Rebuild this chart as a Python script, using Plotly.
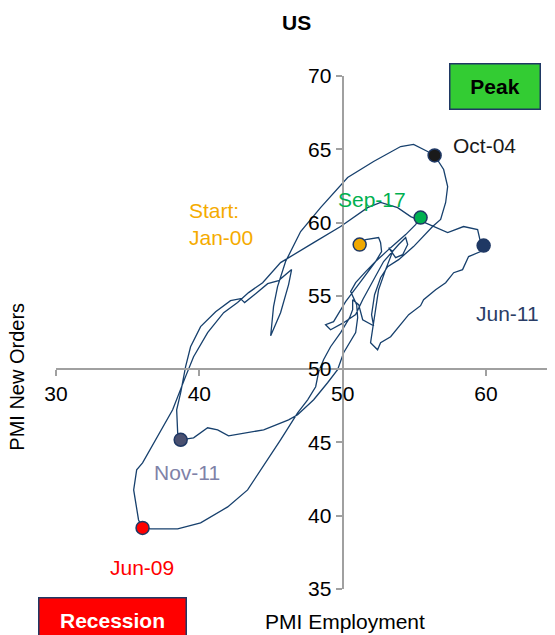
import plotly.graph_objects as go

# PMI Employment (x) and PMI New Orders (y), path
employment = [
    51.19, 51.61, 52.51, 52.65, 52.72, 52.30, 51.61, 50.91, 50.56, 50.98, 51.05, 50.91,
    50.07, 49.65, 48.95, 47.98, 46.86, 46.23, 44.49, 43.37, 42.04, 41.28, 40.58, 39.60, 38.70,
    38.49, 38.42, 38.70, 39.04, 39.39, 40.09, 41.14, 42.18, 42.88, 43.16, 43.93, 44.77, 45.53,
    46.44, 46.23, 45.67, 44.98, 45.18, 45.46, 46.02, 47.07, 48.46, 50.35, 52.16, 54.05, 54.95,
    55.93, 56.42,
    57.05, 57.33, 57.19, 56.84, 56.28, 54.95, 53.91, 53.14, 52.65, 52.23, 52.02, 52.16, 51.40,
    51.12, 50.70, 50.70, 50.49, 49.86, 49.16, 48.67, 48.33, 48.12, 47.56, 46.86, 45.67, 44.77,
    43.37, 41.98, 40.09, 38.49, 36.60, 36.04,
    35.76, 35.42, 35.63, 36.04, 36.95, 38.14, 39.04, 39.60, 40.58, 41.70, 42.67, 43.44, 44.42,
    45.67, 47.98, 49.86, 51.74, 52.65, 53.84, 54.75, 55.58, 56.35, 57.33, 58.44, 59.42, 59.63,
    59.84,
    59.63, 58.79, 58.37, 57.75, 57.19, 56.49, 55.65, 55.44, 54.61, 53.84, 53.35, 52.65, 52.44,
    51.95, 52.09, 52.30, 52.51, 53.00, 53.49, 53.21, 53.70, 54.19, 54.54, 54.40, 53.91, 52.86,
    51.95, 51.40, 50.91, 50.07, 49.16, 48.81, 49.37, 50.21, 51.26, 52.30, 53.35, 54.40, 55.09,
    55.44,
]
new_orders = [
    58.50, 58.84, 58.98, 58.63, 58.02, 57.34, 56.65, 55.90, 55.29, 54.40, 53.51, 52.49,
    51.12, 49.96, 49.07, 47.91, 46.89, 46.54, 45.86, 45.66, 45.45, 45.86, 46.00, 45.31, 45.18,
    45.66, 47.23, 48.39, 50.16, 51.53, 52.90, 53.92, 54.67, 54.81, 54.54, 55.15, 55.83, 56.04,
    56.79, 55.77, 53.85, 52.28, 54.26, 55.63, 57.34, 59.39, 61.02, 63.07, 64.17, 65.19, 65.33,
    64.85, 64.58,
    63.62, 62.46, 61.37, 60.21, 59.73, 58.36, 57.47, 56.99, 56.24, 55.08, 53.72, 52.96, 53.37,
    54.40, 54.74, 54.06, 53.51, 52.49, 51.53, 50.64, 49.82, 48.80, 47.91, 47.02, 45.18, 43.81,
    41.76, 40.60, 39.51, 39.10, 39.10, 39.17,
    39.71, 41.76, 43.13, 43.61, 45.18, 47.23, 49.49, 50.85, 52.49, 53.85, 54.54, 55.22, 55.90,
    57.27, 58.63, 59.73, 61.02, 61.37, 61.02, 60.41, 60.07, 59.73, 59.32, 59.73, 59.52, 58.63,
    58.43,
    58.02, 57.68, 56.79, 56.58, 55.90, 55.42, 54.74, 54.33, 53.72, 52.83, 52.21, 51.80, 51.32,
    51.80, 52.69, 54.06, 55.42, 56.79, 58.02, 58.29, 57.61, 57.81, 58.50, 58.98, 58.50, 57.34,
    55.77, 54.74, 53.72, 53.17, 52.69, 53.03, 53.24, 54.60, 55.97, 57.34, 58.29, 59.18, 59.86,
    60.34,
]

# Highlighted months
point_names = ["Start:<br>Jan-00", "Oct-04", "Jun-09", "Jun-11", "Nov-11", "Sep-17"]
point_x = [51.19, 56.42, 36.04, 59.84, 38.70, 55.44]
point_y = [58.50, 64.58, 39.17, 58.43, 45.18, 60.34]
point_colors = ["#f0a800", "#1a1a1a", "#ff0000", "#1f3864", "#4a5070", "#00b050"]
label_colors = ["#f5ab00", "#1a1a1a", "#ff0000", "#2a3d66", "#7f82a8", "#00b050"]
# label offsets (data units) relative to the point
label_dx = [-12.08, 3.49, -0.07, 1.67, 0.41, -3.42]
label_dy = [1.43, 0.68, -2.73, -4.65, -2.24, 1.23]
label_align = ["left", "center", "center", "center", "center", "center"]

x_ticks = [30, 40, 50, 60]
y_ticks = [35, 40, 45, 50, 55, 60, 65, 70]

FONT = "Liberation Sans, Arial, sans-serif"
FS = 21
AXIS_GRAY = "#a0a0a0"
LINE_COLOR = "#17406d"

fig = go.Figure()
fig.add_trace(go.Scatter(
    x=employment, y=new_orders, mode="lines",
    line=dict(color=LINE_COLOR, width=1.3),
    hoverinfo="skip", showlegend=False,
))
fig.add_trace(go.Scatter(
    x=point_x, y=point_y, mode="markers",
    marker=dict(size=13, color=point_colors, line=dict(color="#1f3864", width=1.5)),
    showlegend=False,
))

annotations = []
for name, px, py, c, dx, dy, al in zip(point_names, point_x, point_y, label_colors,
                                        label_dx, label_dy, label_align):
    annotations.append(dict(
        x=px + dx, y=py + dy, xref="x", yref="y", text=name, showarrow=False,
        font=dict(family=FONT, size=FS, color=c), align=al,
        xanchor="left" if al == "left" else "center", yanchor="middle",
    ))

# Peak / Recession boxes
annotations.append(dict(
    x=60.6, y=69.3, xref="x", yref="y", text="<b>Peak</b>", showarrow=False,
    font=dict(family=FONT, size=FS, color="#000000"),
    bgcolor="#33cc33", bordercolor="#1f3864", borderwidth=1.5,
    width=87, height=42, borderpad=1, xanchor="center", yanchor="middle",
))
annotations.append(dict(
    x=0.1142, y=-0.0614, xref="paper", yref="paper", text="<b>Recession</b>", showarrow=False,
    font=dict(family=FONT, size=FS, color="#ffffff"),
    bgcolor="#ff0000", bordercolor="#1f3864", borderwidth=1.5,
    width=144, height=42, borderpad=1, xanchor="center", yanchor="middle",
))
# titles
annotations.append(dict(
    x=0.481, y=1.105, xref="paper", yref="paper", text="<b>US</b>", showarrow=False,
    font=dict(family=FONT, size=FS, color="#000000"), xanchor="center", yanchor="middle",
))
annotations.append(dict(
    x=0.579, y=-0.064, xref="paper", yref="paper", text="PMI Employment", showarrow=False,
    font=dict(family=FONT, size=FS, color="#000000"), xanchor="center", yanchor="middle",
))
annotations.append(dict(
    x=-0.077, y=0.413, xref="paper", yref="paper", text="PMI New Orders", showarrow=False,
    textangle=-90, font=dict(family=FONT, size=FS - 1, color="#000000"),
    xanchor="center", yanchor="middle",
))

x_range = [30, 64.82]
y_range = [35, 70]

fig.update_layout(
    width=547, height=627,
    margin=dict(l=48, r=0, t=68, b=46),
    paper_bgcolor="white", plot_bgcolor="white",
    font=dict(family=FONT, size=FS, color="#000000"),
    annotations=annotations,
    xaxis=dict(
        range=x_range, tickvals=x_ticks, ticktext=[str(v) for v in x_ticks],
        anchor="free", position=(50 - y_range[0]) / (y_range[1] - y_range[0]),
        showline=True, linecolor=AXIS_GRAY, linewidth=2,
        ticks="outside", ticklen=6, tickwidth=2, tickcolor=AXIS_GRAY,
        showgrid=False, zeroline=False,
        tickfont=dict(family=FONT, size=FS, color="#000000"),
    ),
    yaxis=dict(
        range=y_range, tickvals=y_ticks, ticktext=[str(v) for v in y_ticks],
        anchor="free", position=(50 - x_range[0]) / (x_range[1] - x_range[0]),
        showline=True, linecolor=AXIS_GRAY, linewidth=2,
        ticks="outside", ticklen=6, tickwidth=2, tickcolor=AXIS_GRAY,
        showgrid=False, zeroline=False,
        tickfont=dict(family=FONT, size=FS, color="#000000"),
    ),
)

fig.write_html("out.html")
